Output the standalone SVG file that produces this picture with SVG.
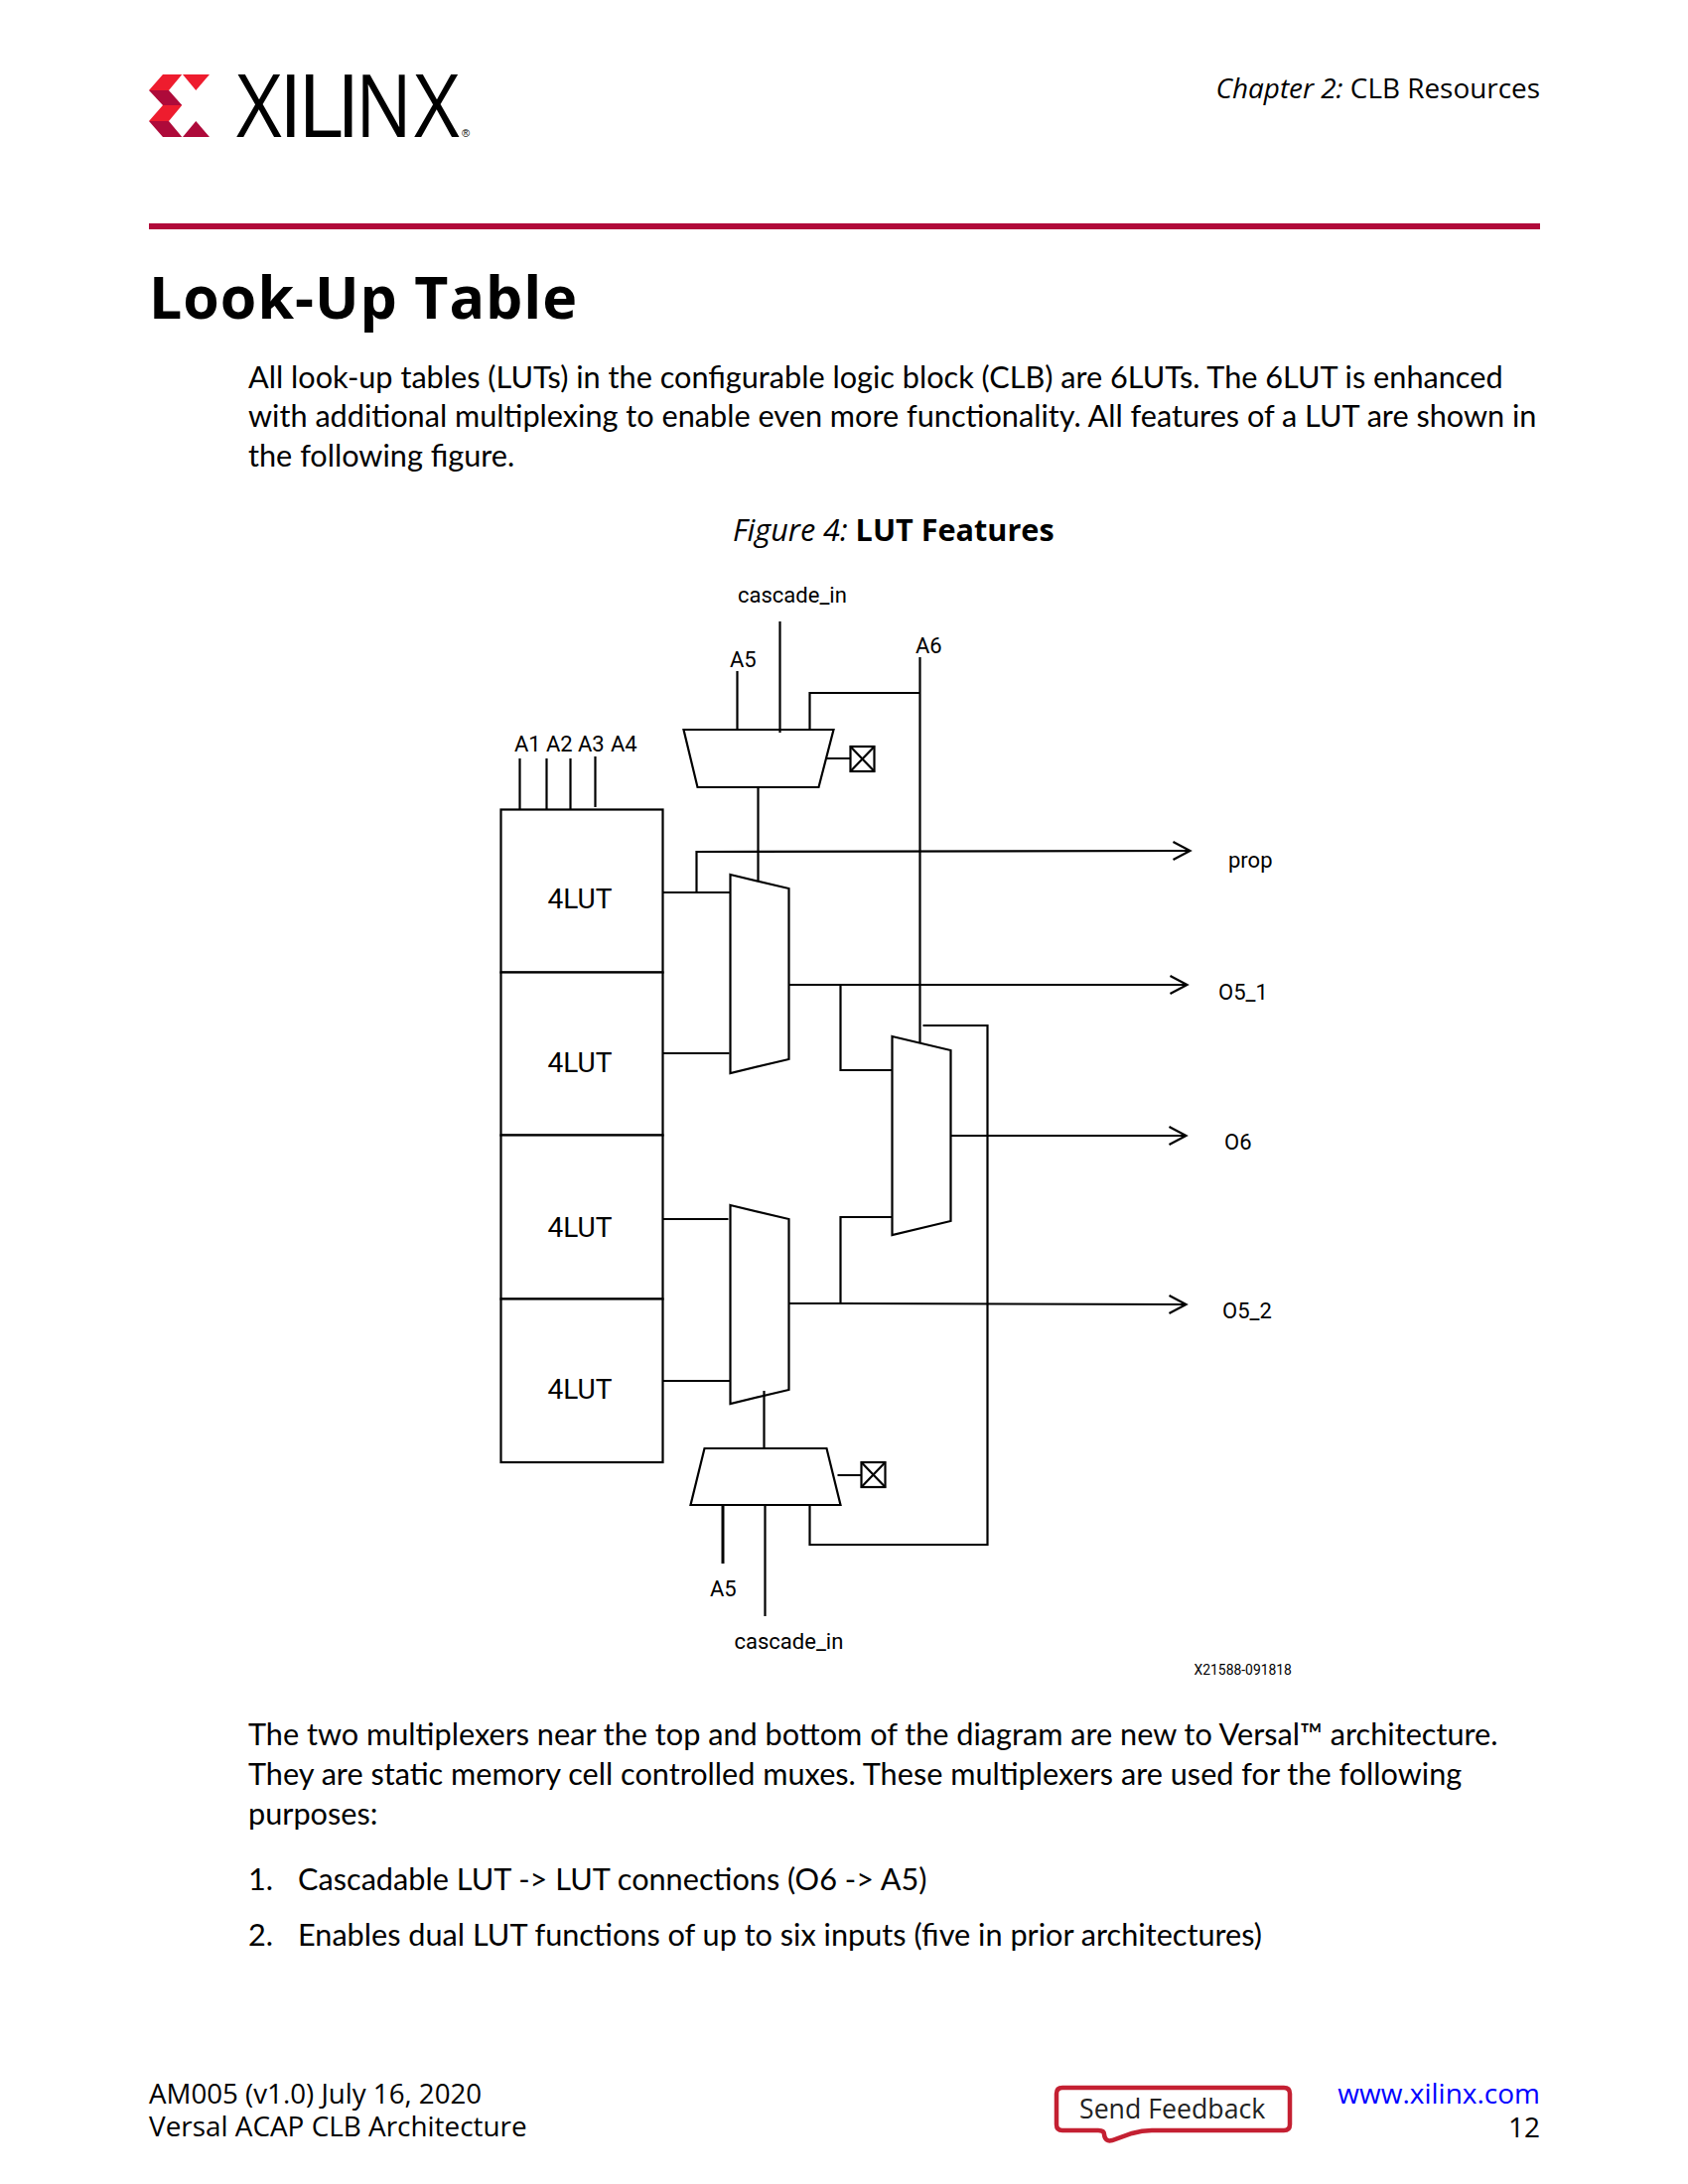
<svg xmlns="http://www.w3.org/2000/svg" width="1700" height="2200" viewBox="0 0 1700 2200">
<style>
.b{font-family:"Lato","Carlito","Liberation Sans",sans-serif;font-size:30.67px;fill:#000;font-variant-ligatures:common-ligatures}
.o{font-family:"Open Sans","Noto Sans",sans-serif;font-size:28px;fill:#000}
.r{font-family:Roboto,"Liberation Sans",sans-serif;font-size:22px;fill:#000}
.l{font-family:Roboto,"Liberation Sans",sans-serif;font-size:28px;fill:#000}
.w{font-family:"Open Sans",sans-serif;font-size:88px;fill:#000}
.s{fill:#fff;stroke:#000;stroke-width:2.2;stroke-linejoin:miter}
.m{fill:none;stroke:#000;stroke-width:2.2;stroke-linejoin:miter}
.c{fill:none;stroke:#000;stroke-width:2.2}
</style>
<defs>
<marker id="arr" markerUnits="userSpaceOnUse" markerWidth="20" markerHeight="22" refX="17" refY="9" orient="auto" overflow="visible"><path d="M0 0L17 9L0 18" fill="none" stroke="#000" stroke-width="2.2"/></marker>
</defs>
<rect width="1700" height="2200" fill="#fff"/>
<g id="header">
<polygon points="150,91 164,75 183.3,75 170,91" fill="#ee1c2e"/>
<polygon points="150,91 170,91 183.3,106 164,106" fill="#ae0a3a"/>
<polygon points="164,106 183.3,106 170,122 150,122" fill="#ee1c2e"/>
<polygon points="150,122 170,122 183.3,138 164,138" fill="#ae0a3a"/>
<polygon points="184,75 211,75 197.3,91" fill="#ee1c2e"/>
<polygon points="184,138 197.3,122 211,138" fill="#ae0a3a"/>
<text class="w" transform="translate(238 138) scale(.9 1)">X</text>
<text class="w" x="280.500 299.500 338.500" y="138">ILI</text>
<text class="w" transform="translate(358 138) scale(.86 1)">N</text>
<text class="w" transform="translate(417 138) scale(.9 1)">X</text>
<text x="465" y="138" font-family="Liberation Sans" font-size="11" fill="#000">®</text>
<text class="o" x="1551" y="99" text-anchor="end" style="font-size:27.900px"><tspan font-style="italic">Chapter 2:</tspan> CLB Resources</text>
<rect x="150" y="225" width="1401" height="6" fill="#b10a3a"/>
<text x="150" y="321" font-family="Open Sans" font-weight="700" font-size="59" letter-spacing="1" fill="#000">Look-Up Table</text>
</g>
<g id="body-top">
<text class="b" x="250" y="391">All look-up tables (LUTs) in the configurable logic block (CLB) are 6LUTs. The 6LUT is enhanced</text>
<text class="b" x="250" y="430">with additional multiplexing to enable even more functionality. All features of a LUT are shown in</text>
<text class="b" x="250" y="470">the following figure.</text>
<text class="o" x="738" y="545" style="font-size:30.600px"><tspan font-style="italic">Figure 4:</tspan> <tspan font-weight="700">LUT Features</tspan></text>
</g>
<g id="diagram" transform="translate(.5 0)">
<g id="connectors">
<path class="c" d="M785 626V738M742 676V735M926 662V1050M927 698H815V735M832 764H856M763 793V887"/>
<path class="c" d="M523 764V816M550 764V816M574 764V816M599 762V813"/>
<path class="c" d="M667 899H735M663 1061H734M664 1228H733M667 1391H735"/>
<path class="c" d="M701 899V858L1198 857" marker-end="url(#arr)"/>
<path class="c" d="M794 992H1195" marker-end="url(#arr)"/>
<path class="c" d="M846 992V1078H898"/>
<path class="c" d="M957 1144H1194" marker-end="url(#arr)"/>
<path class="c" d="M898 1226H846V1313"/>
<path class="c" d="M794 1313H846L1194 1314" marker-end="url(#arr)"/>
<path class="c" d="M929 1033H994V1556H815V1516"/>
<path class="c" d="M769 1401V1459M843 1486H869M770 1516V1628"/>
<path class="c" d="M727.500 1516V1575" style="stroke-width:3"/>
</g>
<g id="lut-1"><rect class="s" x="504" y="815.500" width="163" height="164"/><text class="l" x="551" y="915">4LUT</text></g>
<g id="lut-2"><rect class="s" x="504" y="979.500" width="163" height="164"/><text class="l" x="551" y="1080">4LUT</text></g>
<g id="lut-3"><rect class="s" x="504" y="1143.500" width="163" height="165"/><text class="l" x="551" y="1246">4LUT</text></g>
<g id="lut-4"><rect class="s" x="504" y="1308.500" width="163" height="164.500"/><text class="l" x="551" y="1409">4LUT</text></g>
<g id="mux-top"><polygon class="m" points="688,735 839,735 824,793 702,793"/></g>
<g id="mux-top-cfg"><rect class="s" x="856" y="752" width="24" height="25"/><path class="c" d="M856 752L880 777M880 752L856 777"/></g>
<g id="mux-upper"><polygon class="m" points="735,881 794,895 794,1067 735,1081"/></g>
<g id="mux-lower"><polygon class="m" points="735,1214 794,1228 794,1400 735,1414"/></g>
<g id="mux-out"><polygon class="m" points="898,1044 957,1058 957,1230 898,1244"/></g>
<g id="mux-bottom"><polygon class="m" points="709,1459 832,1459 846,1516 695,1516"/></g>
<g id="mux-bottom-cfg"><rect class="s" x="867" y="1473" width="24" height="25"/><path class="c" d="M867 1473L891 1498M891 1473L867 1498"/></g>
</g>
<g id="labels" transform="translate(1 1.400)">
<text class="r" x="742" y="606">cascade_in</text>
<text class="r" x="734" y="671">A5</text>
<text class="r" x="921" y="657">A6</text>
<text class="r" x="517" y="756">A1</text>
<text class="r" x="549" y="756">A2</text>
<text class="r" x="581" y="756">A3</text>
<text class="r" x="614" y="756">A4</text>
<text class="r" x="1236" y="873">prop</text>
<text class="r" x="1226" y="1006">O5_1</text>
<text class="r" x="1232" y="1157">O6</text>
<text class="r" x="1230" y="1327">O5_2</text>
<text class="r" x="714" y="1607">A5</text>
<text class="r" x="738.500" y="1660">cascade_in</text>
<text x="1201.500" y="1686" font-family="Roboto" font-size="13.900" fill="#000">X21588-091818</text>
</g>
<g id="body-bottom">
<text class="b" x="250" y="1758">The two multiplexers near the top and bottom of the diagram are new to Versal™ architecture.</text>
<text class="b" x="250" y="1798">They are static memory cell controlled muxes. These multiplexers are used for the following</text>
<text class="b" x="250" y="1838">purposes:</text>
<text class="b" x="250" y="1904">1.</text><text class="b" x="300" y="1904">Cascadable LUT -&gt; LUT connections (O6 -&gt; A5)</text>
<text class="b" x="250" y="1960">2.</text><text class="b" x="300" y="1960">Enables dual LUT functions of up to six inputs (five in prior architectures)</text>
</g>
<g id="footer">
<text class="o" x="150" y="2119" style="font-size:27.700px">AM005 (v1.0) July 16, 2020</text>
<text class="o" x="150" y="2152" style="font-size:27.900px">Versal ACAP CLB Architecture</text>
<g id="send-feedback">
<path d="M1070 2103H1293Q1299 2103 1299 2109V2140Q1299 2146 1293 2146H1160Q1150 2146 1140 2149L1120 2156Q1113 2158 1112 2150Q1112 2146 1106 2146H1070Q1064 2146 1064 2140V2109Q1064 2103 1070 2103Z" fill="#fff" stroke="#c42032" stroke-width="4.500"/>
<text class="o" x="1087" y="2134" style="fill:#222;font-size:26.700px">Send Feedback</text>
</g>
<text class="o" x="1551" y="2119" text-anchor="end" style="fill:#00f">www.xilinx.com</text>
<text class="o" x="1551" y="2153" text-anchor="end">12</text>
</g>
</svg>
